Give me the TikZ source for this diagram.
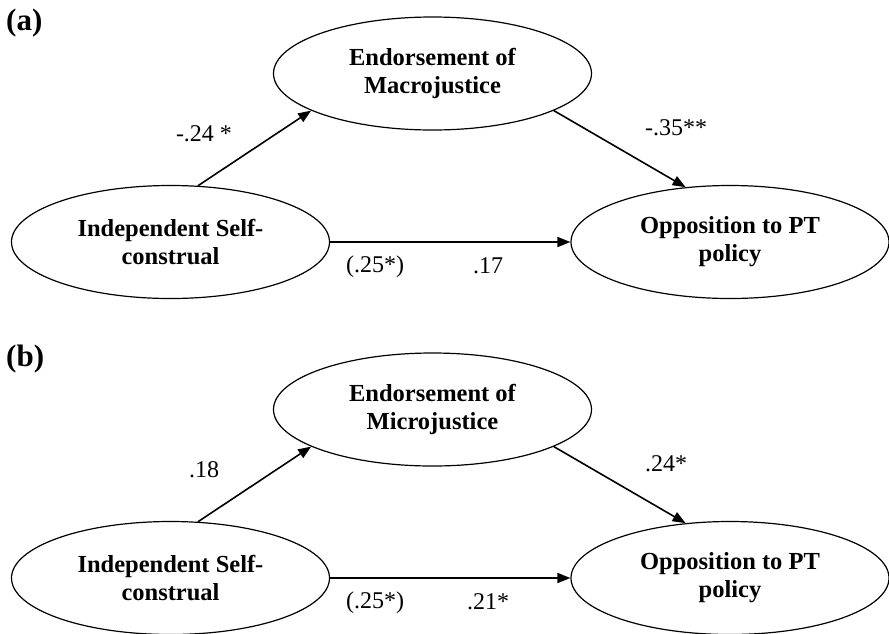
\documentclass[tikz,border=0pt]{standalone}
\usepackage{fontspec}
\setmainfont{Liberation Serif}
\usetikzlibrary{shapes.geometric,arrows.meta}
\tikzset{
  latent/.style={draw, ellipse, line width=1.2pt, minimum width=318pt, minimum height=113pt,
    inner sep=0pt, align=center, font=\bfseries\fontsize{24.5}{28}\selectfont},
  effect/.style={->, line width=1.6pt},
  coef/.style={inner sep=0pt, font=\fontsize{24}{28}\selectfont},
  panel/.style={inner sep=0pt, font=\bfseries\fontsize{31}{33}\selectfont}
}
\begin{document}
\begin{tikzpicture}[x=1pt, y=-1pt, line join=round, >={Triangle[length=13pt,width=10pt]}]
\useasboundingbox (0,0) rectangle (889,633);
\foreach \dy/\tag/\just/\ta/\tb/\tc in {0/a/Macrojustice/-.24 */-.35**/.17, 336/b/Microjustice/.18/.24*/.21*}
{
  \node[panel, anchor=north west] (label\tag) at (6,\dy+9) {(\tag)};
  \node[latent] (endorse\tag) at (432.5,\dy+73.5) {Endorsement of\\\just};
  \node[latent] (indep\tag) at (170.5,\dy+242) {Independent Self-\\construal};
  \node[latent] (oppose\tag) at (730,\dy+242) {Opposition to PT\\policy};
  \draw[effect] (indep\tag.64) -- (endorse\tag.197);
  \draw[effect] (endorse\tag.-17) -- (oppose\tag.129);
  \draw[effect] (indep\tag.east) -- (oppose\tag.west);
  \node[coef] (ca\tag) at (204,\dy+134) {\ta};
  \node[coef, anchor=west] (cb\tag) at (645,\dy+128) {\tb};
  \node[coef] (cc\tag) at (488,\dy+266) {\tc};
  \node[coef] (cd\tag) at (375,\dy+267) {(.25*)};
}
\end{tikzpicture}
\end{document}
